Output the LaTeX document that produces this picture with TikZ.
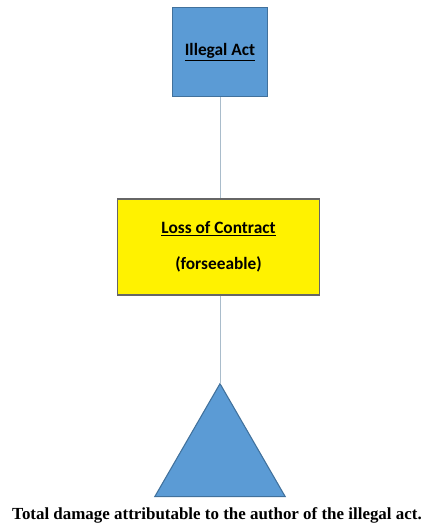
\documentclass[tikz,border=0pt]{standalone}
\usepackage{fontspec}
\setmainfont{Liberation Serif}
\newfontfamily\boxfont{Carlito}
\usetikzlibrary{shapes.geometric}
\definecolor{actblue}{HTML}{5B9BD5}
\definecolor{actedge}{HTML}{41719C}
\definecolor{linkgray}{HTML}{A9BCCB}
\begin{document}
\begin{tikzpicture}[x=0.75pt,y=-0.75pt]
	\tikzset{
  box/.style={
         rectangle,
         draw=actedge, thick,
         inner sep=0,
         font=\boxfont\fontsize{13}{15}\selectfont\bfseries,
         text centered,
         },
  link/.style={draw=linkgray, thin},
}
    \useasboundingbox (0,0) rectangle (426,528);

    \node[box,
      fill=actblue,
      minimum width=71pt,
      minimum height=67pt] (act) at (220,52)
    {\raisebox{2pt}{\underline{Illegal Act}}};

    \node[box,
      fill=yellow,
      draw=black!60,
      minimum width=152pt,
      minimum height=72pt] (contract) at (218.5,247)
    {
      \begin{tabular}{c}
        \underline{Loss of Contract}\\[12pt]
        (forseeable)
      \end{tabular}
    };

    \node[regular polygon,
      regular polygon sides=3,
      fill=actblue,
      draw=actedge, thick,
      minimum size=113pt,
      inner sep=0, outer sep=0] (damage) at (220,459) {};

    \node[font=\fontsize{12.7}{15}\selectfont\bfseries, anchor=center] (total) at (217,515)
      {Total damage attributable to the author of the illegal act.};

    \path[link] (act.south) -- (contract.north -| act.south);
    \path[link] (contract.south -| act.south) -- (damage.corner 1);

\end{tikzpicture}
\end{document}
